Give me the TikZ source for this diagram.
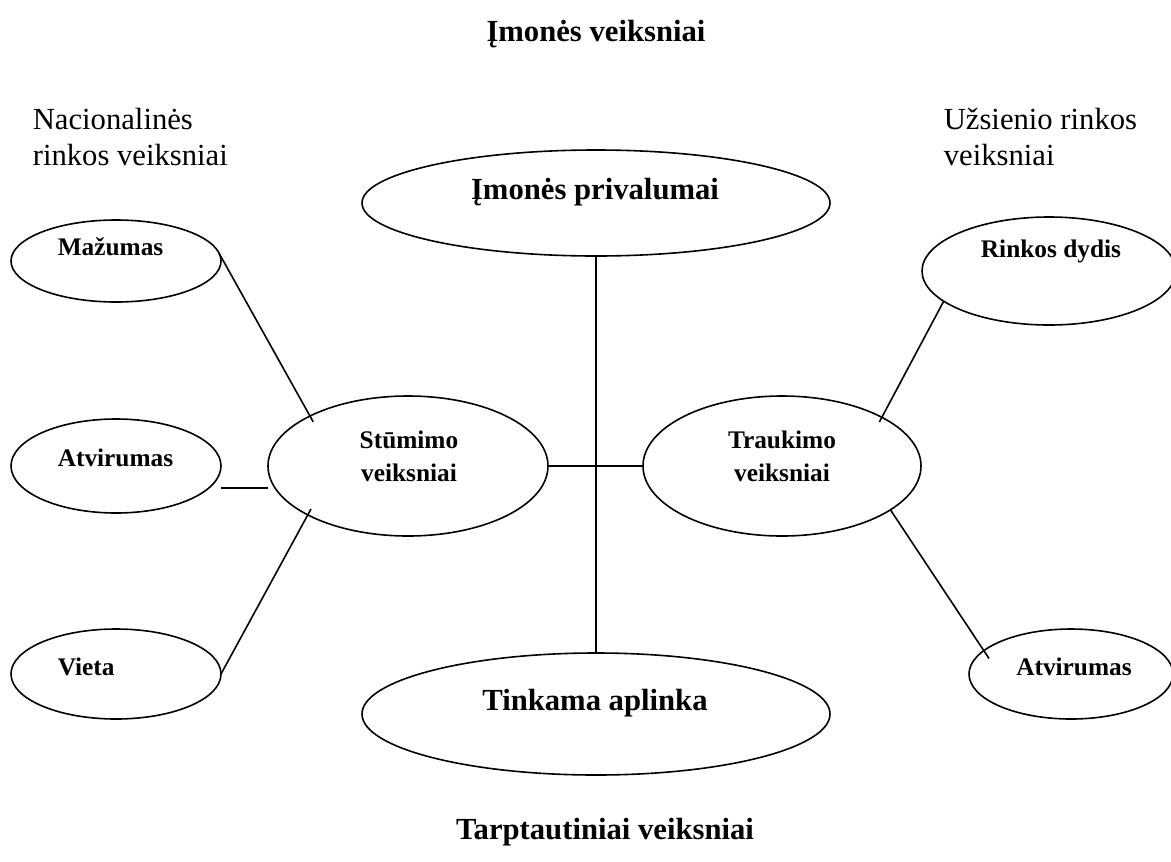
\documentclass[tikz,border=0pt]{standalone}
\usepackage{fontspec}
\setmainfont{Liberation Serif}
\usetikzlibrary{shapes.geometric}
\begin{document}
\begin{tikzpicture}[x=0.75pt,y=-0.75pt,
  line width=1.2pt,
  oval/.style 2 args={ellipse, draw, inner sep=0pt, outer sep=0pt,
    minimum width=#1*1.5pt, minimum height=#2*1.5pt},
  big/.style={inner sep=0pt, font=\fontsize{23}{27}\selectfont},
  bigbold/.style={inner sep=0pt, font=\fontsize{23}{27}\selectfont\bfseries},
  small/.style={inner sep=0pt, font=\fontsize{19}{24.75}\selectfont\bfseries},
  link/.style={line width=1.2pt}]
\useasboundingbox (0,0) rectangle (1171,861);

% ovals
\node[oval={105}{41}] (maz)   at (116,261) {};
\node[oval={105}{47}] (atvL)  at (116,466) {};
\node[oval={105}{45}] (vieta) at (116,674) {};
\node[oval={140}{70}] (stum)  at (408,466) {};
\node[oval={139}{70}] (trauk) at (782,466) {};
\node[oval={234}{53}] (priv)  at (596,203) {};
\node[oval={234}{61}] (tink)  at (596,714) {};
\node[oval={127}{54}] (rink)  at (1049,271) {};
\node[oval={102}{45}] (atvR)  at (1071,674) {};

% texts
\node[bigbold, anchor=base] (title) at (596,41) {Įmonės veiksniai};
\node[bigbold, anchor=base] (foot) at (605,839) {Tarptautiniai veiksniai};
\node[big, align=left, anchor=base west] (nat) at (32,165) {Nacionalinės\\rinkos veiksniai};
\node[big, align=left, anchor=base west] (abr) at (943,165) {Užsienio rinkos\\veiksniai};
\node[bigbold, anchor=base] (privtxt) at (595,199) {Įmonės privalumai};
\node[bigbold, anchor=base] (tinktxt) at (595,710) {Tinkama aplinka};
\node[small, anchor=base west] (maztxt) at (57,255) {Mažumas};
\node[small, anchor=base west] (atvLtxt) at (57,466) {Atvirumas};
\node[small, anchor=base west] (vietatxt) at (57,675) {Vieta};
\node[small, align=center, anchor=base] (stumtxt) at (409,481) {Stūmimo\\veiksniai};
\node[small, align=center, anchor=base] (trauktxt) at (782,481) {Traukimo\\veiksniai};
\node[small, anchor=base] (rinktxt) at (1051,257) {Rinkos dydis};
\node[small, anchor=base] (atvRtxt) at (1074,675) {Atvirumas};

% connectors
\draw[link, shorten >=-5pt] (maz.4) -- (stum.153.7);
\draw[link] ([yshift=-16.5pt]atvL.east) -- ([yshift=-16.5pt]stum.west);
\draw[link, shorten >=-5pt] (vieta.east) -- (stum.206.3);
\draw[link] (stum.east) -- (trauk.west);
\draw[link] (priv.south) -- (tink.north);
\draw[link, shorten >=-4pt] (rink.196.75) -- (trauk.26.6);
\draw[link, shorten >=-7pt] (trauk.-22) -- (atvR.165);
\end{tikzpicture}
\end{document}
